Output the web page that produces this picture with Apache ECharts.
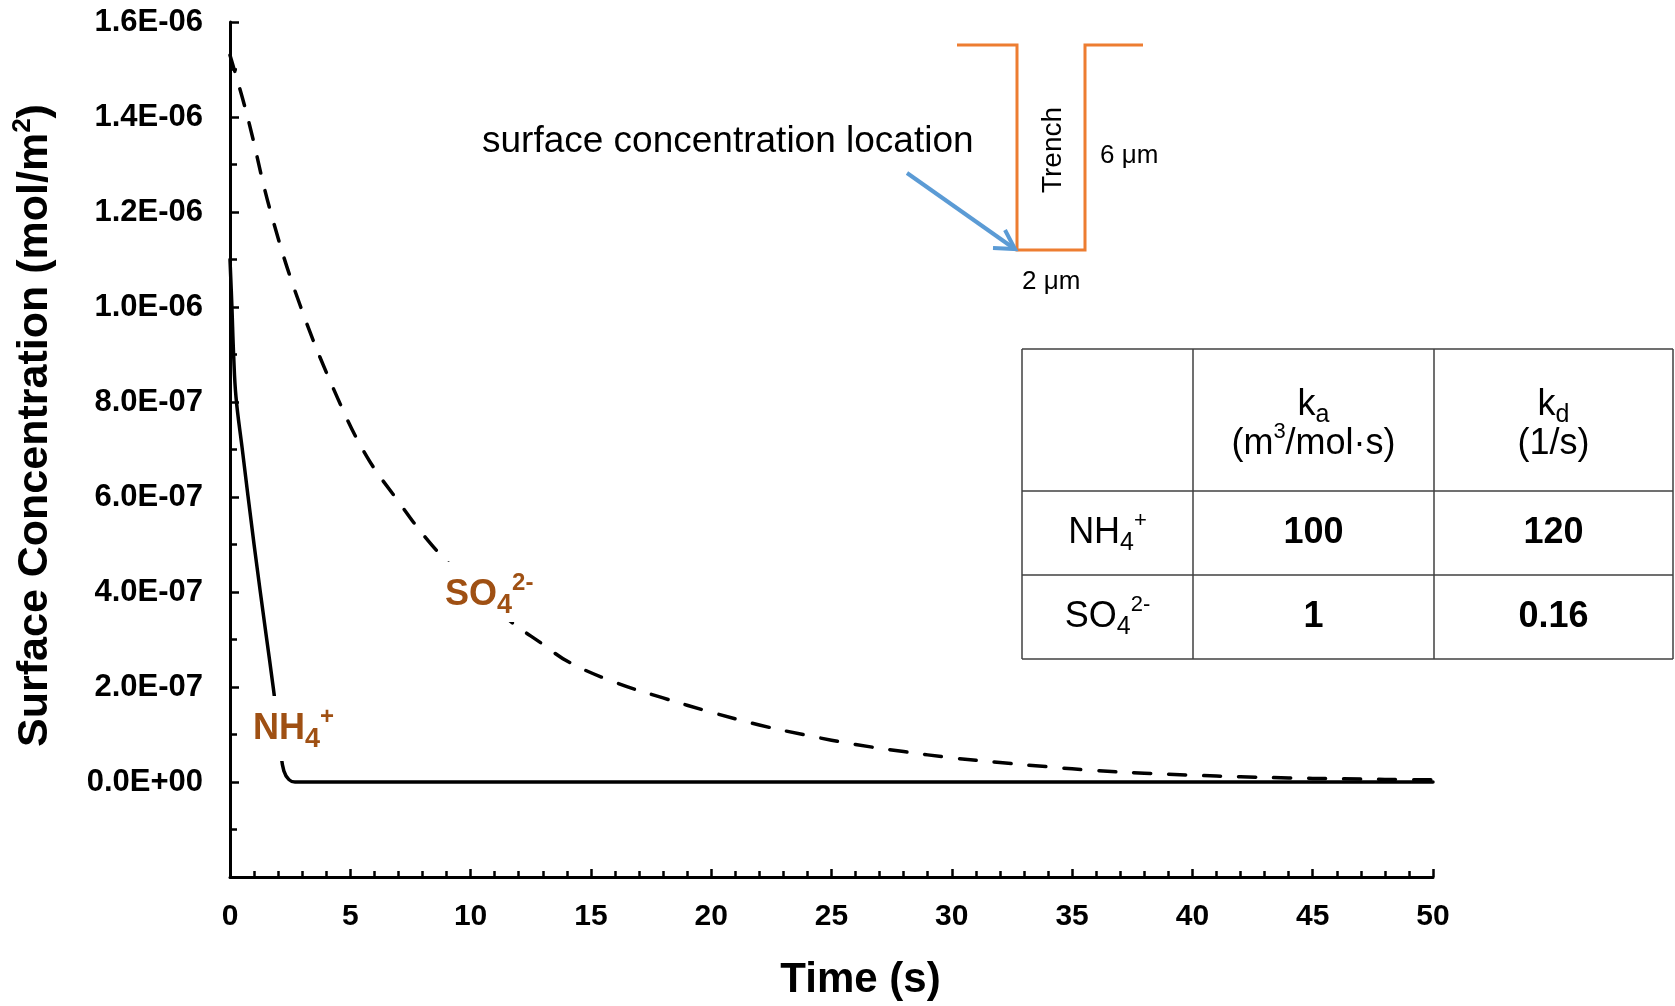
<!DOCTYPE html>
<html>
<head>
<meta charset="utf-8">
<script src="https://cdn.jsdelivr.net/npm/echarts@6/dist/echarts.min.js"></script>
<style>
html,body{margin:0;padding:0;background:#fff;}
#chart{width:1675px;height:1006px;}
</style>
</head>
<body>
<div id="chart"></div>
<script>
// ---- data ----
const timeNH4 = [0, 0.08, 0.15, 0.25, 0.5, 1.0, 1.5, 1.8, 2.0, 2.1, 2.24, 2.45, 2.7, 5, 10, 15, 20, 25, 30, 35, 40, 45, 50];
const concNH4 = [1.10e-6, 1.00e-6, 0.90e-6, 0.81e-6, 0.705e-6, 0.50e-6, 0.31e-6, 0.198e-6, 0.115e-6, 0.066e-6, 0.023e-6, 0.005e-6, 0, 0, 0, 0, 0, 0, 0, 0, 0, 0, 0];

const timeSO4 = [0, 0.73, 1.69, 2.94, 4.5, 5.7, 6.95, 8.25, 9.5, 11.5, 13, 14.1, 16, 18, 20, 22, 24, 26, 28, 30, 32, 34, 36, 38, 40, 42, 44, 46, 48, 50];
const concSO4 = [1.53e-6, 1.40e-6, 1.20e-6, 1.00e-6, 0.805e-6, 0.684e-6, 0.594e-6, 0.507e-6, 0.44e-6, 0.345e-6, 0.29e-6, 0.252e-6, 0.21e-6, 0.177e-6, 0.147e-6, 0.12e-6, 0.098e-6, 0.079e-6, 0.064e-6, 0.051e-6, 0.041e-6, 0.032e-6, 0.024e-6, 0.0185e-6, 0.0143e-6, 0.011e-6, 0.0086e-6, 0.0068e-6, 0.0055e-6, 0.0045e-6];

const tableRows = [
  ['NH4+', '100', '120'],
  ['SO4 2-', '1', '0.16']
];

const FONT = '"Liberation Sans", Arial, sans-serif';
const BROWN = '#9F5013';

function fmtSci(v) {
  if (v < -1e-12) return '';
  if (Math.abs(v) < 1e-12) return '0.0E+00';
  const s = v.toExponential(1);
  const parts = s.split('e');
  const n = parseInt(parts[1], 10);
  return parts[0] + 'E' + (n < 0 ? '-' : '+') + String(Math.abs(n)).padStart(2, '0');
}

const pairs = (t, v) => t.map((x, i) => [x, v[i]]);

const chart = echarts.init(document.getElementById('chart'), null, {renderer: 'canvas'});

const subSup = {
  m: {fontSize: 36, fontWeight: 'bold', fontFamily: FONT, fill: BROWN, lineHeight: 48},
  sb: {fontSize: 27, fontWeight: 'bold', fontFamily: FONT, fill: BROWN, lineHeight: 27, verticalAlign: 'bottom'},
  sp: {fontSize: 24, fontWeight: 'bold', fontFamily: FONT, fill: BROWN, lineHeight: 30, verticalAlign: 'top'}
};
const tblRich = {
  m: {fontSize: 36, fontFamily: FONT, fill: '#000', lineHeight: 46},
  sb: {fontSize: 25, fontFamily: FONT, fill: '#000', lineHeight: 25, verticalAlign: 'bottom'},
  sp: {fontSize: 22, fontFamily: FONT, fill: '#000', lineHeight: 28, verticalAlign: 'top'}
};

// table geometry
const tx = [1022, 1193, 1434, 1673];
const ty = [349, 491, 575, 659];
const tableLines = [];
tx.forEach(x => tableLines.push({type: 'line', z: 100, shape: {x1: x, y1: ty[0], x2: x, y2: ty[3]}, style: {stroke: '#404040', lineWidth: 1.5}}));
ty.forEach(y => tableLines.push({type: 'line', z: 100, shape: {x1: tx[0], y1: y, x2: tx[3], y2: y}, style: {stroke: '#404040', lineWidth: 1.5}}));

const colCx = [(tx[0] + tx[1]) / 2, (tx[1] + tx[2]) / 2, (tx[2] + tx[3]) / 2];
const rowCy = [(ty[1] + ty[2]) / 2, (ty[2] + ty[3]) / 2];
const hdrY1 = 405, hdrY2 = 444;

const boldCell = (x, y, t) => ({type: 'text', z: 100, style: {x: x, y: y, text: t, fontSize: 36, fontWeight: 'bold', fontFamily: FONT, fill: '#000', align: 'center', verticalAlign: 'middle'}});

const tableTexts = [
  {type: 'text', z: 100, style: {x: colCx[1], y: hdrY1, text: '{m|k}{sb|a}', rich: tblRich, align: 'center', verticalAlign: 'middle'}},
  {type: 'text', z: 100, style: {x: colCx[1], y: hdrY2, text: '{m|(m}{sp|3}{m|/mol·s)}', rich: tblRich, align: 'center', verticalAlign: 'middle'}},
  {type: 'text', z: 100, style: {x: colCx[2], y: hdrY1, text: '{m|k}{sb|d}', rich: tblRich, align: 'center', verticalAlign: 'middle'}},
  {type: 'text', z: 100, style: {x: colCx[2], y: hdrY2, text: '{m|(1/s)}', rich: tblRich, align: 'center', verticalAlign: 'middle'}},
  {type: 'text', z: 100, style: {x: colCx[0], y: rowCy[0], text: '{m|NH}{sb|4}{sp|+}', rich: tblRich, align: 'center', verticalAlign: 'middle'}},
  {type: 'text', z: 100, style: {x: colCx[0], y: rowCy[1], text: '{m|SO}{sb|4}{sp|2-}', rich: tblRich, align: 'center', verticalAlign: 'middle'}},
  boldCell(colCx[1], rowCy[0], tableRows[0][1]),
  boldCell(colCx[2], rowCy[0], tableRows[0][2]),
  boldCell(colCx[1], rowCy[1], tableRows[1][1]),
  boldCell(colCx[2], rowCy[1], tableRows[1][2])
];

const inset = [
  {type: 'polyline', z: 100, shape: {points: [[957, 45], [1017, 45], [1017, 250], [1085, 250], [1085, 45], [1143, 45]]}, style: {stroke: '#ED7D31', lineWidth: 3, fill: null}},
  {type: 'text', z: 100, x: 1053, y: 150, rotation: Math.PI / 2, style: {text: 'Trench', fontSize: 28, fontFamily: FONT, fill: '#000', align: 'center', verticalAlign: 'middle'}},
  {type: 'text', z: 100, style: {x: 1100, y: 156, text: '6 μm', fontSize: 26, fontFamily: FONT, fill: '#000', align: 'left', verticalAlign: 'middle'}},
  {type: 'text', z: 100, style: {x: 1022, y: 282, text: '2 μm', fontSize: 26, fontFamily: FONT, fill: '#000', align: 'left', verticalAlign: 'middle'}},
  {type: 'text', z: 100, style: {x: 482, y: 142, text: 'surface concentration location', fontSize: 37, fontFamily: FONT, fill: '#000', align: 'left', verticalAlign: 'middle'}},
  {type: 'polyline', z: 100, shape: {points: [[907, 173], [1012, 247]]}, style: {stroke: '#5B9BD5', lineWidth: 4, fill: null}},
  {type: 'polyline', z: 100, shape: {points: [[1005, 230], [1015, 249], [993, 248]]}, style: {stroke: '#5B9BD5', lineWidth: 4, fill: null, lineJoin: 'miter'}}
];

const seriesLabels = [
  {type: 'text', z: 100, style: {x: 251, y: 696, text: '{m|NH}{sb|4}{sp|+}', rich: subSup, align: 'left', verticalAlign: 'top', backgroundColor: '#fff', padding: [9, 2, 8, 2]}},
  {type: 'text', z: 100, style: {x: 440, y: 562, text: '{m|SO}{sb|4}{sp|2-}', rich: subSup, align: 'left', verticalAlign: 'top', backgroundColor: '#fff', padding: [9, 2, 3, 5]}}
];

const option = {
  animation: false,
  backgroundColor: '#fff',
  grid: {left: 230, right: 242, top: 22, bottom: 123.5, containLabel: false},
  xAxis: {
    type: 'value', min: 0, max: 50, interval: 5,
    axisLine: {show: true, onZero: false, lineStyle: {color: '#000', width: 3}},
    axisTick: {show: true, inside: true, length: 8, lineStyle: {color: '#000', width: 2.5}},
    minorTick: {show: true, splitNumber: 5, length: 6, lineStyle: {color: '#000', width: 2.5}},
    splitLine: {show: false},
    axisLabel: {fontSize: 30, fontWeight: 'bold', fontFamily: FONT, color: '#000', margin: 25},
    name: 'Time (s)', nameLocation: 'middle', nameGap: 82,
    nameTextStyle: {fontSize: 42, fontWeight: 'bold', fontFamily: FONT, color: '#000', padding: [0, 0, 0, 58]}
  },
  yAxis: {
    type: 'value', min: -2e-7, max: 1.6e-6, interval: 2e-7,
    axisLine: {show: true, onZero: false, lineStyle: {color: '#000', width: 3}},
    axisTick: {show: true, inside: true, length: 9, lineStyle: {color: '#000', width: 2.5}},
    minorTick: {show: true, splitNumber: 2, length: 7, lineStyle: {color: '#000', width: 2.5}},
    splitLine: {show: false},
    axisLabel: {fontSize: 31, fontWeight: 'bold', fontFamily: FONT, color: '#000', margin: 27, formatter: fmtSci},
    name: 'Surface Concentration (mol/m{sp|2})', nameLocation: 'middle', nameGap: 170, nameRotate: 90,
    nameTextStyle: {fontSize: 43, fontWeight: 'bold', fontFamily: FONT, color: '#000', lineHeight: 50, padding: [0, 0, 0, 48],
      rich: {sp: {fontSize: 26, fontWeight: 'bold', fontFamily: FONT, color: '#000', verticalAlign: 'top', lineHeight: 30}}}
  },
  series: [
    {
      name: 'NH4+', type: 'line', data: pairs(timeNH4, concNH4), showSymbol: false,
      smooth: 0.4,
      lineStyle: {color: '#000', width: 3.5, cap: 'round', join: 'round'}, z: 3
    },
    {
      name: 'SO4 2-', type: 'line', data: pairs(timeSO4, concSO4), showSymbol: false,
      smooth: 0.4,
      lineStyle: {color: '#000', width: 3.5, type: [17, 18], cap: 'round', join: 'round'}, z: 2
    }
  ],
  graphic: [].concat(inset, tableLines, tableTexts, seriesLabels)
};
chart.setOption(option);
</script>
</body>
</html>
